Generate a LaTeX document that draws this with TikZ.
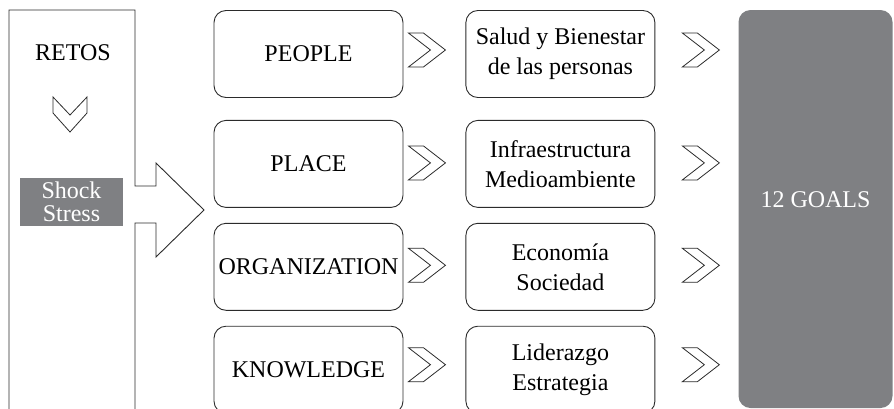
\documentclass[tikz,border=0pt]{standalone}
\usepackage{fontspec}
\setmainfont{Liberation Serif}
\usepackage{xcolor}
\usepackage{tikz}
\usetikzlibrary{positioning}
\definecolor{goalgray}{HTML}{7F8083}
\definecolor{linegray}{HTML}{2B2B2B}
\tikzset{
	every node/.style = {font=\fontsize{24}{30}\selectfont, inner sep = 3},
	roundbox/.style = {draw=linegray, line width=0.9pt, rounded corners=12pt, minimum width=189pt, minimum height=87pt, align=center},
	graybox/.style = {fill=goalgray, text=white, align=center},
	chevronline/.style = {draw=linegray, line width=0.8pt, line join=miter},
	pics/chevron/.style = {code = {
		\draw[chevronline] (-18.5,-17) -- (-3.5,-17) -- (18.5,0) -- (-3.5,17) -- (-18.5,17) -- (3.5,0) -- cycle;
	}},
	pics/downchevron/.style = {code = {
		\draw[chevronline] (-17,-17.5) -- (-17,-1.5) -- (0,17.5) -- (17,-1.5) -- (17,-17.5) -- (0,0.5) -- cycle;
	}}
}

\begin{document}
\begin{tikzpicture}[x=1pt, y=-1pt]
		\useasboundingbox (0,0) rectangle (894,408);
		% left block arrow
		\draw[linegray, line width=0.9pt] (9,410) -- (9,10) -- (135,10) -- (135,186) -- (156,186) -- (156,163) -- (204,210) -- (156,257) -- (156,223) -- (135,223) -- (135,410);
		\node (retos) at (73,53) {RETOS};
		\pic (retosdown) at (70,114.5) {downchevron};
		\node[graybox, minimum width=103pt, minimum height=48pt, font=\fontsize{24}{23}\selectfont, text depth=0pt] (shockstress) at (71.5,202) {Shock\\Stress};
		
		% first column
		\node[roundbox] (people) at (308.5,54) {PEOPLE};
		\node[roundbox, below=22pt of people] (place) {PLACE};
		\node[roundbox, below=15pt of place] (organization) {ORGANIZATION};
		\node[roundbox, below=15pt of organization] (knowledge) {KNOWLEDGE};
		
		% second column
		\node[roundbox, right=62pt of people] (salud) {Salud y Bienestar\\de las personas};
		\node[roundbox, right=62pt of place] (infra) {Infraestructura\\Medioambiente};
		\node[roundbox, right=62pt of organization] (economia) {Econom\'ia\\Sociedad};
		\node[roundbox, right=62pt of knowledge] (liderazgo) {Liderazgo\\Estrategia};
		
		\node[graybox, rounded corners=12pt, minimum width=154pt, minimum height=398pt, text depth=18pt] (goals) at (815.5,209) {12 GOALS};
		
		% chevrons between the columns
		\pic (peoplechev) at ([xshift=23.5pt, yshift=4pt]people.east) {chevron};
		\pic (placechev) at ([xshift=23.5pt, yshift=1pt]place.east) {chevron};
		\pic (organizationchev) at ([xshift=23.5pt, yshift=1.5pt]organization.east) {chevron};
		\pic (knowledgechev) at ([xshift=23.5pt, yshift=5pt]knowledge.east) {chevron};
		
		\pic (saludchev) at ([xshift=45.5pt, yshift=4pt]salud.east) {chevron};
		\pic (infrachev) at ([xshift=45.5pt, yshift=1pt]infra.east) {chevron};
		\pic (economiachev) at ([xshift=45.5pt, yshift=1.5pt]economia.east) {chevron};
		\pic (liderazgochev) at ([xshift=45.5pt, yshift=5pt]liderazgo.east) {chevron};
\end{tikzpicture}
\end{document}
